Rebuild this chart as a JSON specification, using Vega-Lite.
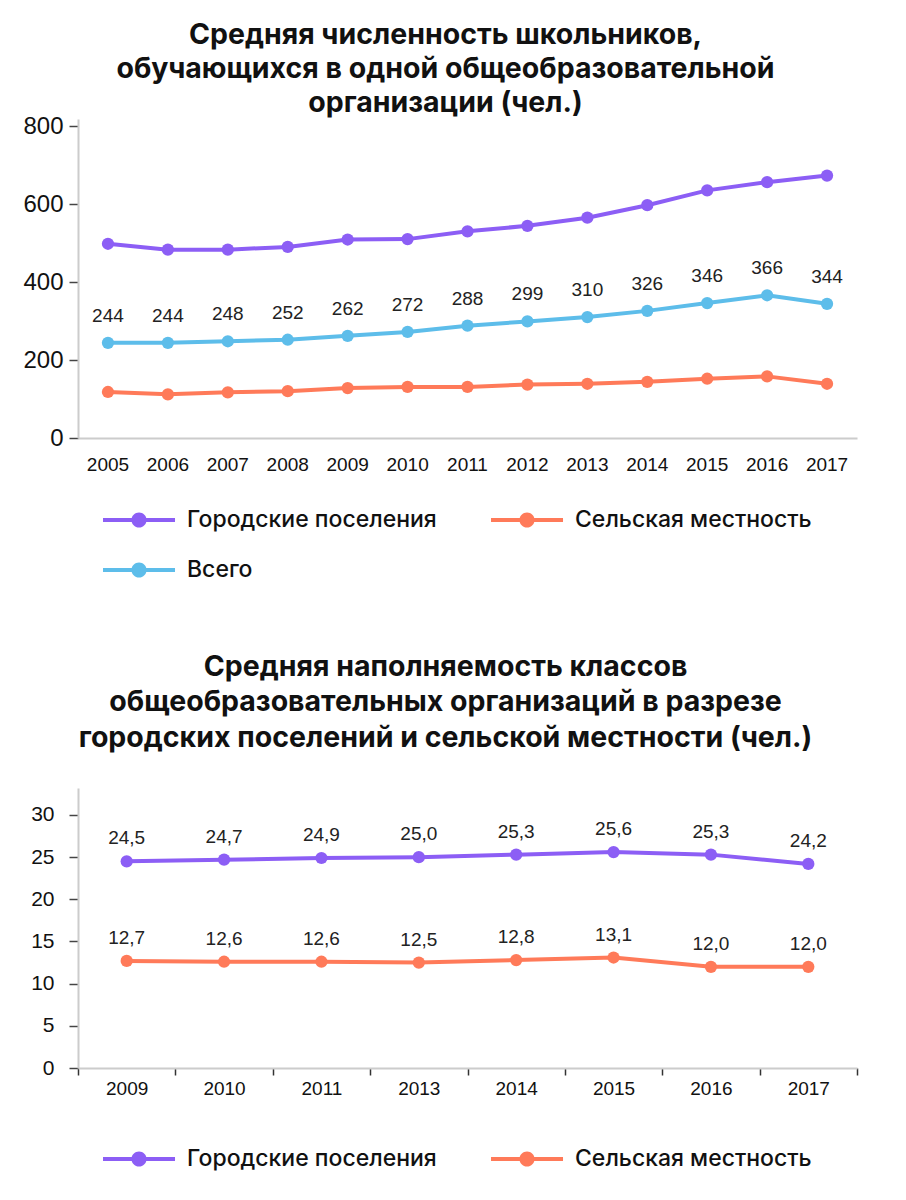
{
  "$schema": "https://vega.github.io/schema/vega-lite/v6.json",
  "background": "white",
  "padding": {"left": 22, "top": 20, "right": 10, "bottom": 10},
  "config": {
    "locale": {"number": {"decimal": ",", "thousands": " ", "grouping": [3], "currency": ["", ""]}},
    "view": {"stroke": null},
    "font": "Liberation Sans",
    "axis": {"grid": false, "domainColor": "#cccccc", "domainWidth": 2, "labelFont": "Liberation Sans", "labelColor": "#111111", "tickColor": "#444444", "tickWidth": 1.5, "title": null},
    "title": {"font": "Inter", "fontWeight": 700, "fontSize": 28.5, "color": "#111111", "lineHeight": 34, "anchor": "middle", "dx": -22},
    "legend": {
      "title": null, "orient": "bottom", "direction": "horizontal", "columns": 2,
      "symbolType": "M0.39,-0.11L1.99,-0.11L1.99,0.11L0.39,0.11Z M2.79,-0.11L4.39,-0.11L4.39,0.11L2.79,0.11Z M1.97,0A0.42,0.42 0 1,1 2.81,0A0.42,0.42 0 1,1 1.97,0Z",
      "symbolSize": 1296, "symbolStrokeWidth": 0,
      "labelFont": "Inter", "labelFontSize": 23, "labelFontWeight": 500, "labelColor": "#111111",
      "labelLimit": 500, "labelOffset": 73, "columnPadding": 29, "rowPadding": 20, "padding": 0
    }
  },
  "datasets": {
    "schools": [
      {"year": "2005", "series": "Городские поселения", "value": 498},
      {"year": "2006", "series": "Городские поселения", "value": 483},
      {"year": "2007", "series": "Городские поселения", "value": 483},
      {"year": "2008", "series": "Городские поселения", "value": 490},
      {"year": "2009", "series": "Городские поселения", "value": 509},
      {"year": "2010", "series": "Городские поселения", "value": 510},
      {"year": "2011", "series": "Городские поселения", "value": 530},
      {"year": "2012", "series": "Городские поселения", "value": 544},
      {"year": "2013", "series": "Городские поселения", "value": 565},
      {"year": "2014", "series": "Городские поселения", "value": 597},
      {"year": "2015", "series": "Городские поселения", "value": 635},
      {"year": "2016", "series": "Городские поселения", "value": 656},
      {"year": "2017", "series": "Городские поселения", "value": 673},
      {"year": "2005", "series": "Сельская местность", "value": 118},
      {"year": "2006", "series": "Сельская местность", "value": 112},
      {"year": "2007", "series": "Сельская местность", "value": 117},
      {"year": "2008", "series": "Сельская местность", "value": 120},
      {"year": "2009", "series": "Сельская местность", "value": 128},
      {"year": "2010", "series": "Сельская местность", "value": 131},
      {"year": "2011", "series": "Сельская местность", "value": 131},
      {"year": "2012", "series": "Сельская местность", "value": 137},
      {"year": "2013", "series": "Сельская местность", "value": 139},
      {"year": "2014", "series": "Сельская местность", "value": 144},
      {"year": "2015", "series": "Сельская местность", "value": 152},
      {"year": "2016", "series": "Сельская местность", "value": 158},
      {"year": "2017", "series": "Сельская местность", "value": 139},
      {"year": "2005", "series": "Всего", "value": 244},
      {"year": "2006", "series": "Всего", "value": 244},
      {"year": "2007", "series": "Всего", "value": 248},
      {"year": "2008", "series": "Всего", "value": 252},
      {"year": "2009", "series": "Всего", "value": 262},
      {"year": "2010", "series": "Всего", "value": 272},
      {"year": "2011", "series": "Всего", "value": 288},
      {"year": "2012", "series": "Всего", "value": 299},
      {"year": "2013", "series": "Всего", "value": 310},
      {"year": "2014", "series": "Всего", "value": 326},
      {"year": "2015", "series": "Всего", "value": 346},
      {"year": "2016", "series": "Всего", "value": 366},
      {"year": "2017", "series": "Всего", "value": 344}
    ],
    "classes": [
      {"year": "2009", "series": "Городские поселения", "value": 24.5},
      {"year": "2010", "series": "Городские поселения", "value": 24.7},
      {"year": "2011", "series": "Городские поселения", "value": 24.9},
      {"year": "2013", "series": "Городские поселения", "value": 25.0},
      {"year": "2014", "series": "Городские поселения", "value": 25.3},
      {"year": "2015", "series": "Городские поселения", "value": 25.6},
      {"year": "2016", "series": "Городские поселения", "value": 25.3},
      {"year": "2017", "series": "Городские поселения", "value": 24.2},
      {"year": "2009", "series": "Сельская местность", "value": 12.7},
      {"year": "2010", "series": "Сельская местность", "value": 12.6},
      {"year": "2011", "series": "Сельская местность", "value": 12.6},
      {"year": "2013", "series": "Сельская местность", "value": 12.5},
      {"year": "2014", "series": "Сельская местность", "value": 12.8},
      {"year": "2015", "series": "Сельская местность", "value": 13.1},
      {"year": "2016", "series": "Сельская местность", "value": 12.0},
      {"year": "2017", "series": "Сельская местность", "value": 12.0}
    ]
  },
  "spacing": 70,
  "resolve": {"scale": {"color": "independent"}, "legend": {"color": "independent"}},
  "vconcat": [
    {
      "title": {"text": ["Средняя численность школьников,", "обучающихся в одной общеобразовательной", "организации (чел.)"], "offset": -3},
      "width": 779,
      "height": 319,
      "data": {"name": "schools"},
      "encoding": {
        "x": {"field": "year", "type": "ordinal", "scale": {"type": "band", "paddingInner": 0, "paddingOuter": 0},
              "axis": {"labelAngle": 0, "ticks": false, "labelFontSize": 19, "labelPadding": 17}},
        "y": {"field": "value", "type": "quantitative", "scale": {"domain": [0, 818], "nice": false},
              "axis": {"values": [0, 200, 400, 600, 800], "labelFontSize": 24, "tickSize": 9, "labelPadding": 6}},
        "color": {"field": "series", "type": "nominal",
                  "scale": {"domain": ["Городские поселения", "Сельская местность", "Всего"], "range": ["#8C5EF5", "#FF7A59", "#5DBDEA"]},
                  "legend": {"offset": 28}}
      },
      "layer": [
        {"mark": {"type": "line", "strokeWidth": 4}},
        {"mark": {"type": "point", "filled": true, "size": 150, "opacity": 1}},
        {"transform": [{"filter": "datum.series === 'Всего'"}],
         "mark": {"type": "text", "dy": -27, "fontSize": 19, "font": "Liberation Sans"},
         "encoding": {"text": {"field": "value", "type": "quantitative"}, "color": {"value": "#222222"}}}
      ]
    },
    {
      "title": {"text": ["Средняя наполняемость классов", "общеобразовательных организаций в разрезе", "городских поселений и сельской местности (чел.)"], "offset": 36, "lineHeight": 35.5},
      "width": 779,
      "height": 280,
      "data": {"name": "classes"},
      "encoding": {
        "x": {"field": "year", "type": "ordinal", "scale": {"type": "band", "paddingInner": 0, "paddingOuter": 0},
              "axis": {"labelAngle": 0, "ticks": true, "tickBand": "extent", "tickSize": 7, "tickColor": "#333333", "labelFontSize": 19, "labelPadding": 4}},
        "y": {"field": "value", "type": "quantitative", "scale": {"domain": [0, 33.2], "nice": false},
              "axis": {"values": [0, 5, 10, 15, 20, 25, 30], "labelFontSize": 21, "tickSize": 9, "labelPadding": 15}},
        "color": {"field": "series", "type": "nominal",
                  "scale": {"domain": ["Городские поселения", "Сельская местность"], "range": ["#8C5EF5", "#FF7A59"]},
                  "legend": {"offset": 43}}
      },
      "layer": [
        {"mark": {"type": "line", "strokeWidth": 4}},
        {"mark": {"type": "point", "filled": true, "size": 150, "opacity": 1}},
        {"mark": {"type": "text", "dy": -23, "fontSize": 19, "font": "Liberation Sans"},
         "encoding": {"text": {"field": "value", "type": "quantitative", "format": ".1f"}, "color": {"value": "#222222"}}}
      ]
    }
  ]
}
